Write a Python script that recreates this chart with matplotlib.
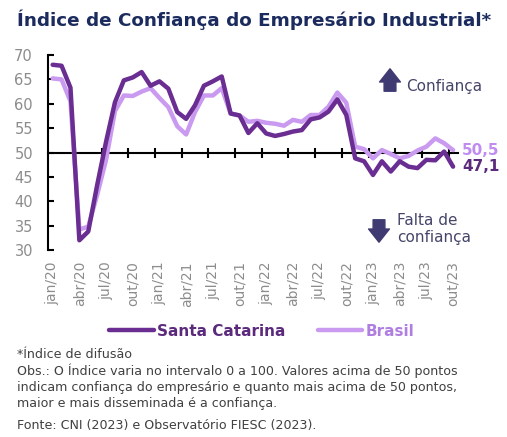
import matplotlib.pyplot as plt
from matplotlib.patches import FancyArrowPatch
import numpy as np

# monthly index, jan/20 .. out/23
santa_catarina = [68.0, 67.8, 63.3, 32.0, 33.8, 43.3, 52.2, 60.3, 64.8, 65.4,
                  66.5, 63.7, 64.6, 63.1, 58.3, 56.9, 59.7, 63.7, 64.6, 65.6,
                  58.0, 57.6, 54.0, 56.0, 53.9, 53.4, 53.8, 54.3, 54.6, 56.8,
                  57.2, 58.4, 60.9, 57.7, 48.8, 48.2, 45.4, 48.2, 46.1, 48.2,
                  47.1, 46.8, 48.5, 48.4, 50.2, 47.1]
brasil = [65.2, 65.0, 60.5, 34.2, 34.8, 41.3, 48.5, 58.5, 61.7, 61.6,
          62.5, 63.2, 61.2, 59.3, 55.4, 53.7, 58.3, 61.7, 61.7, 63.2,
          58.0, 57.6, 56.3, 56.5, 56.1, 55.9, 55.5, 56.7, 56.3, 57.7,
          57.7, 59.4, 62.3, 60.2, 51.2, 50.7, 48.8, 50.5, 49.7, 48.8,
          49.3, 50.4, 51.2, 52.9, 51.9, 50.5]
tick_labels = ['jan/20', 'abr/20', 'jul/20', 'out/20', 'jan/21', 'abr/21',
               'jul/21', 'out/21', 'jan/22', 'abr/22', 'jul/22', 'out/22',
               'jan/23', 'abr/23', 'jul/23', 'out/23']

dark = '#6a2d91'
light = '#c99af0'
gray = '#8c8c8c'

fig = plt.figure(figsize=(5.07, 4.37), dpi=100)
ax = fig.add_axes([0.0951, 0.4279, 0.8073, 0.4462])

x = np.arange(len(santa_catarina))
ax.plot(x, brasil, color=light, lw=3.2, solid_joinstyle='round',
        solid_capstyle='round', label='Brasil', zorder=3)
ax.plot(x, santa_catarina, color=dark, lw=3.2, solid_joinstyle='round',
        solid_capstyle='round', label='Santa Catarina', zorder=4)

ax.set_xlim(-0.5, len(x) - 0.5)
ax.set_ylim(30, 70)
ax.set_yticks(range(30, 71, 5))
ax.tick_params(axis='y', direction='in', length=4, width=1.5, pad=11,
               labelsize=10.5, labelcolor=gray)

for s in ['top', 'right']:
    ax.spines[s].set_visible(False)
ax.spines['left'].set_linewidth(1.5)
ax.spines['bottom'].set_linewidth(1.5)
ax.spines['bottom'].set_position(('data', 50))
ax.spines['bottom'].set_zorder(2)
ax.set_xticks(np.arange(2.5, len(x) - 0.5, 3))
ax.tick_params(axis='x', direction='inout', length=7, width=1.5,
               labelbottom=False)

sec = ax.secondary_xaxis(0)
sec.set_xticks(range(0, len(x), 3), tick_labels)
sec.tick_params(length=0, pad=8, labelsize=10, labelcolor=gray,
                labelrotation=90)
sec.spines['bottom'].set_visible(False)

# end labels
ax.annotate('50,5', xy=(x[-1], brasil[-1]), xytext=(6.5, 0),
            textcoords='offset points', va='center', ha='left',
            fontsize=11, fontweight='bold', color='#c08cf0')
ax.annotate('47,1', xy=(x[-1], santa_catarina[-1]), xytext=(6.5, 0),
            textcoords='offset points', va='center', ha='left',
            fontsize=11, fontweight='bold', color='#5c2a7c')

# arrows + notes
arrow_c = '#3f3b72'
style = 'simple,head_width=1.5,head_length=0.95,tail_width=0.85'
fig.add_artist(FancyArrowPatch((390, 437 - 94), (390, 437 - 66),
                               transform=None, arrowstyle=style,
                               mutation_scale=10, color=arrow_c))
fig.add_artist(FancyArrowPatch((379, 437 - 217), (379, 437 - 245),
                               transform=None, arrowstyle=style,
                               mutation_scale=10, color=arrow_c))
fig.text(406 / 507, 1 - 86 / 437, 'Confiança', fontsize=11, color='#45456a',
         va='center', ha='left')
fig.text(397 / 507, 1 - 229 / 437, 'Falta de\nconfiança', fontsize=11,
         color='#45456a', va='center', ha='left', linespacing=1.15)

fig.text(17 / 507, 1 - 20 / 437, 'Índice de Confiança do Empresário Industrial*',
         fontsize=13.2, fontweight='bold', color='#1b2b5e', va='center')

leg = fig.legend(handles=ax.lines[::-1], loc='center',
                 bbox_to_anchor=(262 / 507, 1 - 331 / 437), ncol=2,
                 frameon=False, handlelength=2.9, handletextpad=0.25,
                 columnspacing=2.1, prop={'size': 11, 'weight': 'bold'})
for txt, c in zip(leg.get_texts(), ['#5c2a7c', '#b07ee0']):
    txt.set_color(c)

notes = ['*Índice de difusão',
         'Obs.: O Índice varia no intervalo 0 a 100. Valores acima de 50 pontos',
         'indicam confiança do empresário e quanto mais acima de 50 pontos,',
         'maior e mais disseminada é a confiança.']
for k, line in enumerate(notes):
    fig.text(17 / 507, 1 - (355 + 16.2 * k) / 437, line, fontsize=9.1,
             color='#404040', va='center')
fig.text(17 / 507, 1 - 426 / 437, 'Fonte: CNI (2023) e Observatório FIESC (2023).',
         fontsize=9.1, color='#404040', va='center')

fig.savefig('out.png', dpi=100)
